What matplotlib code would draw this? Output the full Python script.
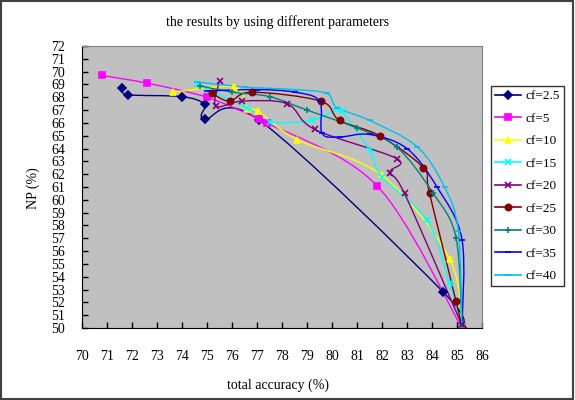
import numpy as np
import matplotlib
matplotlib.use('Agg')
import matplotlib.pyplot as plt
from matplotlib.path import Path
from matplotlib.patches import PathPatch, Rectangle
from matplotlib.lines import Line2D

# Data (total accuracy %, NP %)
cf_25_x = [71.6, 71.85, 74.0, 74.9, 74.9, 77.1, 84.45, 85.2]
cf_25_y = [68.7, 68.2, 68.05, 67.45, 66.3, 66.2, 52.8, 50.0]

cf_5_x = [70.8, 72.6, 75.0, 77.1, 77.4, 81.8, 85.2]
cf_5_y = [69.7, 69.1, 68.0, 66.3, 66.0, 61.1, 50.0]

cf_10_x = [73.65, 76.1, 76.6, 77.05, 78.6, 82.0, 84.7, 85.2]
cf_10_y = [68.4, 68.8, 67.1, 66.9, 64.7, 61.9, 55.4, 50.0]

cf_15_x = [74.6, 76.6, 77.5, 79.2, 80.2, 80.4, 81.5, 82.0, 83.8, 84.7, 85.2]
cf_15_y = [69.0, 67.2, 66.1, 66.2, 67.1, 66.9, 63.9, 61.8, 58.4, 53.5, 50.0]

cf_20_x = [75.5, 75.35, 76.4, 78.2, 79.3, 82.6, 82.3, 82.9, 85.2]
cf_20_y = [69.3, 67.3, 67.7, 67.5, 65.5, 63.2, 62.1, 60.5, 50.2]

cf_25b_x = [75.2, 75.9, 76.8, 79.55, 80.3, 81.9, 83.65, 83.9, 84.96, 85.2]
cf_25b_y = [68.3, 67.7, 68.4, 67.7, 66.2, 65.0, 62.5, 60.5, 52.1, 50.0]

cf_30_x = [74.7, 76.0, 77.5, 79.0, 81.0, 82.6, 84.05, 84.96, 85.2]
cf_30_y = [68.9, 68.4, 68.05, 67.0, 65.6, 64.1, 60.5, 57.05, 50.0]

cf_35_x = [75.0, 77.0, 78.5, 79.5, 79.6, 80.3, 81.5, 83.0, 84.2, 85.2, 85.2]
cf_35_y = [68.5, 68.6, 68.4, 67.7, 65.2, 64.9, 65.1, 64.0, 61.0, 56.9, 50.0]

cf_40_x = [74.6, 76.5, 78.5, 79.8, 80.2, 81.5, 83.4, 84.5, 85.05, 85.2]
cf_40_y = [69.2, 68.8, 68.6, 68.3, 67.2, 66.2, 64.15, 61.0, 57.6, 50.0]

labels = ['cf=2.5', 'cf=5', 'cf=10', 'cf=15', 'cf=20', 'cf=25', 'cf=30', 'cf=35', 'cf=40']
colors = ['#000080', '#FF00FF', '#FFFF00', '#00FFFF', '#800080', '#800000', '#008080', '#0000FF', '#00C0F0']
markers = ['D', 's', '^', 'x', 'x', 'o', '+', '_', '_']
series = [(cf_25_x, cf_25_y), (cf_5_x, cf_5_y), (cf_10_x, cf_10_y), (cf_15_x, cf_15_y),
          (cf_20_x, cf_20_y), (cf_25b_x, cf_25b_y), (cf_30_x, cf_30_y),
          (cf_35_x, cf_35_y), (cf_40_x, cf_40_y)]


def smooth_path(xs, ys):
    # Bezier "smoothed line" through the points, like the spreadsheet option
    pts = np.column_stack([xs, ys]).astype(float)
    p = np.vstack([pts[0], pts, pts[-1]])
    verts = [pts[0]]
    codes = [Path.MOVETO]
    for i in range(1, len(p) - 2):
        c1 = p[i] + (p[i + 1] - p[i - 1]) / 6
        c2 = p[i + 1] - (p[i + 2] - p[i]) / 6
        verts += [c1, c2, p[i + 1]]
        codes += [Path.CURVE4] * 3
    return Path(verts, codes)


plt.rcParams['font.family'] = ['Liberation Serif', 'DejaVu Serif']

fig = plt.figure(figsize=(5.75, 4.0), dpi=100)
ax = fig.add_axes([82 / 575, 1 - 328 / 400, 400 / 575, 282 / 400])
ax.set_facecolor('#C0C0C0')

handles = []
for (xs, ys), c, m, lab in zip(series, colors, markers, labels):
    ax.add_patch(PathPatch(smooth_path(xs, ys), fill=False, edgecolor=c, lw=1.0))
    ax.plot(xs, ys, linestyle='none', marker=m, color=c, markersize=4.5, mew=1.2)
    handles.append(Line2D([], [], color=c, marker=m, markersize=4.5, mew=1.2, lw=1.2, label=lab))

ax.set_xlim(70, 86)
ax.set_ylim(50, 72)
ax.set_xticks(range(70, 87))
ax.set_yticks(range(50, 73))
ax.tick_params(direction='in', length=4, width=1, labelsize=10)
ax.tick_params(axis='x', pad=16)
ax.tick_params(axis='y', pad=12)
for s in ['top', 'right']:
    ax.spines[s].set_color('#808080')
for s in ['left', 'bottom']:
    ax.spines[s].set_color('black')

fig.text(278 / 575, 1 - 22 / 400, 'the results by using different parameters',
         ha='center', va='center', fontsize=10)
fig.text(278 / 575, 1 - 385 / 400, 'total accuracy (%)', ha='center', va='center', fontsize=10)
fig.text(33 / 575, 1 - 188 / 400, 'NP (%)', ha='center', va='center', rotation=90, fontsize=10)

leg = fig.legend(handles=handles, loc='upper left', bbox_to_anchor=(491 / 575, 1 - 86 / 400),
                 frameon=True, fancybox=False, edgecolor='black', fontsize=9.5,
                 handlelength=2.0, labelspacing=0.78, borderpad=0.3, handletextpad=0.3,
                 borderaxespad=0)
leg.get_frame().set_linewidth(1.0)

fig.patches.append(Rectangle((0.002, 0.003), 0.995, 0.994, transform=fig.transFigure,
                             fill=False, edgecolor='#404040', lw=1.5))

fig.savefig('out.png', dpi=100)
